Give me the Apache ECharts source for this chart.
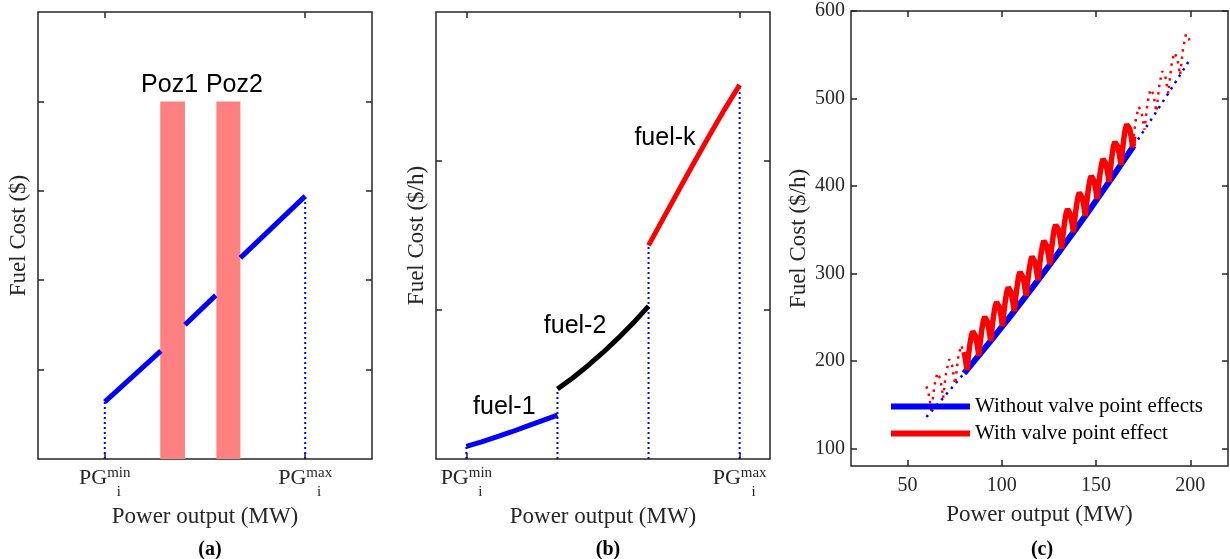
<!DOCTYPE html>
<html><head><meta charset="utf-8">
<script src="https://cdn.jsdelivr.net/npm/echarts@6/dist/echarts.min.js"></script>
<style>html,body{margin:0;padding:0;background:#fff}#c{width:1230px;height:559px}</style>
</head><body><div id="c"></div>
<script>
// ---------- Panel (a): prohibited operating zones ----------
const aXTicks = [1, 4];
const aXTickSup = ['min', 'max'];
const aSeg1 = [[1.0, 0.64], [1.84, 1.21]];
const aSeg2 = [[2.2, 1.50], [2.66, 1.83]];
const aSeg3 = [[3.03, 2.25], [4.0, 2.94]];
const aGuides = [[1.0, 0.64], [4.0, 2.94]];
const aZoneNames = ['Poz1', 'Poz2'];
const aZoneX = [[1.83, 2.2], [2.67, 3.03]];
const aZoneTop = 4;

// ---------- Panel (b): multiple fuels ----------
const bXTicks = [1, 10];
const bXTickSup = ['min', 'max'];
const bFuel1 = [[1, 0.085], [1.5, 0.115], [2, 0.148], [2.5, 0.183], [3, 0.22], [3.5, 0.257], [4, 0.295]];
const bFuel2 = [[4, 0.47], [4.5, 0.544], [5, 0.626], [5.5, 0.715], [6, 0.811], [6.5, 0.914], [7, 1.026]];
const bFuelK = [[7, 1.434], [7.5, 1.62], [8, 1.805], [8.5, 1.99], [9, 2.17], [9.5, 2.345], [10, 2.511]];
const bGuides = [[1, 0.085], [4, 0.47], [7, 1.434], [10, 2.511]];
const bFuelNames = ['fuel-1', 'fuel-2', 'fuel-k'];

// ---------- Panel (c): valve point effect ----------
const cXTicks = [50, 100, 150, 200];
const cYTicks = [100, 200, 300, 400, 500, 600];
const cSolidRange = [80, 170];
const cBase = [[60,136],[65,148.2],[70,160.6],[75,173.2],[80,186],[85,199],[90,212.1],[95,225.4],[100,238.9],[105,252.5],[110,266.4],[115,280.4],[120,294.6],[125,308.9],[130,323.5],[135,338.2],[140,353],[145,368.1],[150,383.3],[155,398.7],[160,414.3],[165,430.1],[170,446],[175,462.1],[180,478.4],[185,494.9],[190,511.5],[195,528.3],[200,545.3]];
const cValveLow = [[60,171],[61.1,164.1],[62.7,142.5],[64.2,171.7],[65.8,186.2],[67.4,179.6],[68.9,157.9],[70.5,187.4],[72.1,201.9],[73.6,195.2],[75.2,173.7],[76.8,203.3],[78.4,217.9],[80,210.3]];
const cValveMain = [[80,210.3],[80.7,201.6],
 [81.5,189.9],[82.3,205.7],[83.1,219.5],[83.9,229.3],[84.6,234.0],[85.4,233.4],[86.2,227.6],[87.0,217.9],
 [87.8,206.3],[88.6,222.2],[89.4,235.9],[90.2,245.8],[90.9,250.5],[91.7,249.9],[92.5,244.2],[93.3,234.5],
 [94.1,223.0],[94.9,238.9],[95.7,252.7],[96.5,262.6],[97.2,267.4],[98.0,266.8],[98.8,261.1],[99.6,251.5],
 [100.3,239.7],[101.1,255.6],[101.9,269.5],[102.7,279.4],[103.5,284.2],[104.2,283.7],[105.0,278.0],[105.8,268.4],
 [106.6,257.0],[107.4,273.0],[108.2,286.8],[108.9,296.8],[109.7,301.7],[110.5,301.2],[111.3,295.5],[112.1,286.0],
 [112.9,274.5],[113.7,290.5],[114.5,304.4],[115.3,314.4],[116.0,319.3],[116.8,318.8],[117.6,313.2],[118.4,303.7],
 [119.2,292.3],[120.0,308.3],[120.8,322.3],[121.6,332.3],[122.3,337.3],[123.1,336.8],[123.9,331.2],[124.7,321.8],
 [125.5,310.4],[126.3,326.5],[127.1,340.4],[127.8,350.5],[128.6,355.5],[129.4,355.1],[130.2,349.5],[131.0,340.1],
 [131.7,328.4],[132.5,344.5],[133.3,358.5],[134.1,368.6],[134.9,373.6],[135.6,373.2],[136.4,367.7],[137.2,358.3],
 [138.0,347.1],[138.8,363.2],[139.6,377.3],[140.4,387.4],[141.1,392.5],[141.9,392.1],[142.7,386.6],[143.5,377.3],
 [144.3,366.0],[145.1,382.2],[145.9,396.2],[146.7,406.4],[147.4,411.5],[148.2,411.2],[149.0,405.7],[149.8,396.4],
 [150.6,385.2],[151.4,401.4],[152.2,415.5],[153.0,425.7],[153.7,430.8],[154.5,430.6],[155.3,425.2],[156.1,415.9],
 [156.9,404.6],[157.7,420.8],[158.5,435.0],[159.2,445.2],[160.0,450.4],[160.8,450.1],[161.6,444.7],[162.4,435.5],
 [163.2,424.4],[164.0,440.7],[164.8,454.9],[165.5,465.1],[166.3,470.3],[167.1,470.1],[167.9,464.8],[168.7,455.6],
 [169.4,444.1],[170,456.7]];
const cValveHigh = [[170,456.7],[171.0,474.7],[172.6,490.4],[174.1,484.7],[175.7,464.4],[177.3,495.1],[178.8,510.5],[180.4,505.2],[182.0,485.0],[183.6,515.7],[185.1,531.2],[186.7,526.0],[188.3,505.8],[189.9,536.7],[191.4,552.2],[193.0,547.1],[194.6,527.0],[196.2,557.9],[197.7,573.5],[199.3,568.4],[200,560.8]];
const cNames = ['Without valve point effects', 'With valve point effect'];

// ---------- styling ----------
const SERIF = 'Liberation Serif';
const SANS = 'Liberation Sans';
const AX = '#262626';
const BLUE = '#0000ff', RED = '#ff0000', BLACK = '#000000', PINK = '#ff8080';

function pgLabel(ticks, sups) {
  return {
    customValues: ticks, margin: 7,
    formatter: v => '{pg|PG}{sup|' + sups[ticks.indexOf(v)] + '}\n{gap| }{sub|i}',
    rich: {
      pg: {fontFamily: SERIF, fontSize: 22, color: AX, lineHeight: 25},
      sup: {fontFamily: SERIF, fontSize: 15, color: AX, lineHeight: 15, verticalAlign: 'top'},
      gap: {fontFamily: SERIF, fontSize: 15, width: 28, lineHeight: 3},
      sub: {fontFamily: SERIF, fontSize: 15, color: AX, lineHeight: 3}
    }
  };
}
const tick = (vals) => ({show: true, inside: true, length: 6, lineStyle: {color: AX, width: 1.5}, customValues: vals});
const nameStyle = {fontFamily: SERIF, fontSize: 23, color: AX};
function xAx(grid, min, max, ticks, label, name, gap, top) {
  return {type: 'value', gridIndex: grid, min, max, position: top ? 'top' : 'bottom',
    axisLine: {show: false, onZero: false}, splitLine: {show: false}, axisTick: tick(ticks),
    axisLabel: top ? {show: false} : label,
    name: top ? '' : name, nameLocation: 'middle', nameGap: gap, nameTextStyle: nameStyle};
}
function yAx(grid, min, max, ticks, label, name, gap, right) {
  return {type: 'value', gridIndex: grid, min, max, position: right ? 'right' : 'left',
    axisLine: {show: false, onZero: false}, splitLine: {show: false}, axisTick: tick(ticks),
    axisLabel: right ? {show: false} : label,
    name: right ? '' : name, nameLocation: 'middle', nameGap: gap, nameTextStyle: nameStyle};
}
const numLabel = (vals, margin) => ({customValues: vals, margin, fontFamily: SERIF, fontSize: 20, color: AX});

const thick = (data, color, xi, width, extra) => Object.assign({
  type: 'line', data, xAxisIndex: xi, yAxisIndex: xi, showSymbol: false, symbol: 'none',
  lineStyle: {color, width}, itemStyle: {color}, z: 3, silent: true}, extra || {});
const dotted = (data, color, xi, width, dash) => ({
  type: 'line', data, xAxisIndex: xi, yAxisIndex: xi, showSymbol: false, symbol: 'none', silent: true,
  lineStyle: {color, width, type: dash}, itemStyle: {color}, z: 2});

const series = [];
// (a)
series.push({type: 'line', data: [], xAxisIndex: 0, yAxisIndex: 0, z: 1, silent: true,
  markArea: {silent: true, itemStyle: {color: PINK, opacity: 1},
    label: {show: true, position: 'top', distance: 4, fontFamily: SANS, fontSize: 25, color: BLACK},
    data: aZoneNames.map((n, i) => [{name: n, xAxis: aZoneX[i][0], yAxis: 0, label: {offset: [i === 0 ? -3 : 6, 0]}}, {xAxis: aZoneX[i][1], yAxis: aZoneTop}])}});
aGuides.forEach(g => series.push(dotted([[g[0], 0], g], BLUE, 0, 2, [2, 3])));
[aSeg1, aSeg2, aSeg3].forEach(s => series.push(thick(s, BLUE, 0, 5)));
// (b)
bGuides.forEach(g => series.push(dotted([[g[0], 0], g], BLUE, 1, 2, [2, 3])));
const fuelLabelPos = [[2.25, 0.35], [4.58, 0.89], [7.54, 2.155]];
[bFuel1, bFuel2, bFuelK].forEach((s, i) => series.push(thick(s, [BLUE, BLACK, RED][i], 1, 5, {
  markPoint: {silent: true, symbol: 'rect', symbolSize: 1, itemStyle: {color: 'transparent'},
    label: {show: true, position: 'inside', formatter: '{b}', fontFamily: SANS, fontSize: 25, color: BLACK},
    data: [{name: bFuelNames[i], coord: fuelLabelPos[i]}]}})));
// (c)
const inSolid = p => p[0] >= cSolidRange[0] && p[0] <= cSolidRange[1];
const below = p => p[0] <= cSolidRange[0];
const above = p => p[0] >= cSolidRange[1];
series.push(dotted(cBase.filter(below), BLUE, 2, 2.5, [2.5, 5]));
series.push(dotted(cBase.filter(above), BLUE, 2, 2.5, [2.5, 5]));
series.push(dotted(cValveLow, RED, 2, 2.5, [2.5, 5]));
series.push(dotted(cValveHigh, RED, 2, 2.5, [2.5, 5]));
series.push(thick(cBase.filter(inSolid), BLUE, 2, 6, {name: cNames[0]}));
series.push(thick(cValveMain, RED, 2, 5.5, {name: cNames[1], z: 4}));

const option = {
  animation: false,
  backgroundColor: '#ffffff',
  title: [
    {text: '(a)', left: 205, top: 535, textAlign: 'center', textStyle: {fontFamily: SERIF, fontSize: 20, fontWeight: 'bold', color: BLACK}},
    {text: '(b)', left: 603, top: 535, textAlign: 'center', textStyle: {fontFamily: SERIF, fontSize: 20, fontWeight: 'bold', color: BLACK}},
    {text: '(c)', left: 1037, top: 535, textAlign: 'center', textStyle: {fontFamily: SERIF, fontSize: 20, fontWeight: 'bold', color: BLACK}}
  ],
  legend: {data: cNames, orient: 'vertical', left: 886, top: 391, itemWidth: 79, itemHeight: 6, itemGap: 6,
    icon: 'rect', selectedMode: false,
    textStyle: {fontFamily: SERIF, fontSize: 21, color: BLACK, lineHeight: 21}},
  grid: [
    {left: 38, top: 12, width: 334, height: 447, show: true, borderColor: AX, borderWidth: 1.5, backgroundColor: 'transparent'},
    {left: 436, top: 12, width: 334, height: 447, show: true, borderColor: AX, borderWidth: 1.5, backgroundColor: 'transparent'},
    {left: 851, top: 11, width: 377, height: 455, show: true, borderColor: AX, borderWidth: 1.5, backgroundColor: 'transparent'}
  ],
  xAxis: [
    xAx(0, 0, 5, aXTicks, pgLabel(aXTicks, aXTickSup), 'Power output (MW)', 46, false),
    xAx(1, 0, 11, bXTicks, pgLabel(bXTicks, bXTickSup), 'Power output (MW)', 46, false),
    xAx(2, 20, 220, cXTicks, numLabel(cXTicks, 10), 'Power output (MW)', 37, false),
    xAx(0, 0, 5, aXTicks, null, '', 0, true),
    xAx(1, 0, 11, bXTicks, null, '', 0, true),
    xAx(2, 20, 220, cXTicks, null, '', 0, true)
  ],
  yAxis: [
    yAx(0, 0, 5, [1, 2, 3, 4], {show: false}, 'Fuel Cost ($)', 8, false),
    yAx(1, 0, 3, [1, 2], {show: false}, 'Fuel Cost ($/h)', 8, false),
    yAx(2, 80, 600, cYTicks, numLabel(cYTicks, 6), 'Fuel Cost ($/h)', 41, false),
    yAx(0, 0, 5, [1, 2, 3, 4], null, '', 0, true),
    yAx(1, 0, 3, [1, 2], null, '', 0, true),
    yAx(2, 80, 600, cYTicks, null, '', 0, true)
  ],
  series
};
echarts.init(document.getElementById('c'), null, {renderer: 'canvas'}).setOption(option);
</script>
</body></html>
